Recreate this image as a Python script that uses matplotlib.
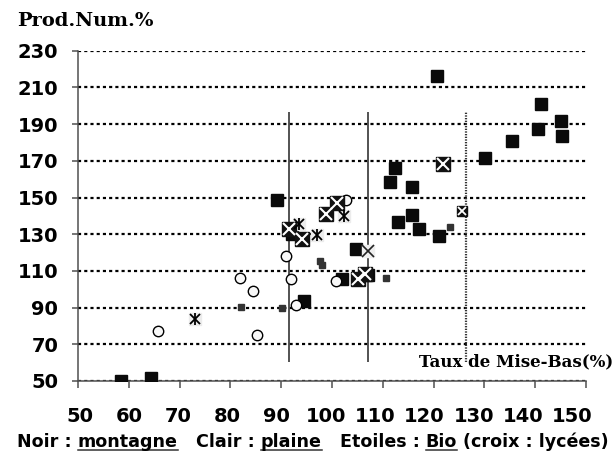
import matplotlib
matplotlib.use('Agg')
import matplotlib.pyplot as plt
from matplotlib.lines import Line2D
from matplotlib.transforms import ScaledTranslation

# Noir : montagne (gros carrés noirs)
mont_x = [58.4, 64.4, 89.1, 92.2, 94.5, 101.9, 104.7, 107.0, 111.5, 112.4, 112.9,
          115.8, 115.8, 117.1, 120.7, 121.1, 130.2, 135.4, 140.5, 141.1, 145.0, 145.2]
mont_y = [50.0, 51.8, 148.5, 130.0, 93.4, 105.4, 121.9, 107.5, 158.2, 166.2, 136.6,
          155.8, 140.3, 132.8, 216.2, 128.8, 171.3, 180.9, 187.3, 201.1, 191.6, 183.6]

# petits carrés gris foncé
petit_x = [82.1, 90.2, 97.6, 98.0, 110.6, 123.2]
petit_y = [90.2, 90.0, 115.6, 113.1, 106.0, 133.8]

# Clair : plaine (ronds blancs)
plaine_x = [65.7, 81.9, 84.4, 85.3, 90.9, 91.9, 93.0, 100.8, 102.8]
plaine_y = [77.1, 106.0, 98.9, 75.2, 118.0, 105.8, 91.5, 104.6, 148.4]

# Etoiles : Bio
bio_x = [73.0, 93.5, 97.0, 102.3]
bio_y = [83.8, 135.5, 129.4, 140.0]

# croix : lycées (carrés noirs croisés)
lycee_x = [91.5, 94.0, 98.8, 100.9, 105.1, 106.5, 121.8]
lycee_y = [132.6, 127.4, 140.8, 146.8, 105.6, 108.1, 168.0]
lycee_petit_x = [125.5]
lycee_petit_y = [142.6]

# croix claire
croix_x = [107.0]
croix_y = [120.8]

# traits verticaux
traits_x = [91.5, 107.0]
trait_pointille_x = [126.3]
trait_bas, trait_haut = 60.3, 196.5

x_ticks = list(range(50, 151, 10))
y_ticks = list(range(50, 231, 20))

W, H = 616, 466
fig = plt.figure(figsize=(W / 100, H / 100), dpi=100)
ax = fig.add_axes([78 / W, 1 - 381 / H, (586 - 78) / W, (381 - 50.7) / H])

ax.set_xlim(50, 150)
ax.set_ylim(50, 230)

for s in ['top', 'right']:
    ax.spines[s].set_visible(False)
for s in ['left', 'bottom']:
    ax.spines[s].set_color('#505050')
    ax.spines[s].set_linewidth(1.1)

ax.set_axisbelow(True)
ax.grid(True, axis='y', color='black', linewidth=1.6, linestyle=(0, (1.4, 1.4)))
ax.grid(False, axis='x')

ax.set_yticks(y_ticks)
ax.set_yticklabels([str(v) for v in y_ticks])
ax.set_xticks(x_ticks)
ax.set_xticklabels([str(v) for v in x_ticks])
ax.tick_params(axis='y', direction='out', length=4.3, width=1.1, color='#505050', pad=10,
               labelsize=14)
ax.tick_params(axis='x', direction='out', length=5, width=1.1, color='#505050', pad=13.5,
               labelsize=14)
for lab in ax.get_xticklabels() + ax.get_yticklabels():
    lab.set_fontfamily('DejaVu Sans')
    lab.set_fontweight('bold')
# les étiquettes de l'axe x ne tombent pas pile sous les graduations
for i, lab in enumerate(ax.get_xticklabels()):
    dx = (2 - 1.6 * i) / 100
    lab.set_transform(lab.get_transform() + ScaledTranslation(dx, 0, fig.dpi_scale_trans))

ax.vlines(traits_x, trait_bas, trait_haut, color='#444444', linewidth=1.3, zorder=1.5)
ax.vlines(trait_pointille_x, trait_bas, trait_haut, color='#333333', linewidth=1.6,
          linestyles=(0, (0.6, 0.6)), zorder=1.5)

ax.plot(mont_x, mont_y, ls='none', marker='s', ms=8.6, color='#0a0a0a', zorder=3)
ax.plot(petit_x, petit_y, ls='none', marker='s', ms=5, color='#333333', zorder=3)
ax.plot(plaine_x, plaine_y, ls='none', marker='o', ms=7.5, mfc='#f8f8f8', mec='black',
        mew=1.0, zorder=4)

ax.plot(bio_x, bio_y, ls='none', marker='s', ms=8.5, color='#ececec', zorder=4)
ax.plot(bio_x, bio_y, ls='none', marker='x', ms=7, mec='black', mew=1.3, zorder=5)
ax.plot(bio_x, bio_y, ls='none', marker='|', ms=8, mec='black', mew=1.3, zorder=5)

ax.plot(lycee_x, lycee_y, ls='none', marker='s', ms=9.5, color='#111111', zorder=4)
ax.plot(lycee_x, lycee_y, ls='none', marker='x', ms=8.5, mec='white', mew=1.5, zorder=5)
ax.plot(lycee_petit_x, lycee_petit_y, ls='none', marker='s', ms=6.5, color='#111111', zorder=4)
ax.plot(lycee_petit_x, lycee_petit_y, ls='none', marker='x', ms=5.5, mec='white', mew=1.3,
        zorder=5)

ax.plot(croix_x, croix_y, ls='none', marker='s', ms=9, color='#eeeeee', zorder=4)
ax.plot(croix_x, croix_y, ls='none', marker='x', ms=8, mec='#222222', mew=1.2, zorder=5)

fig.text(17 / W, 1 - 20.5 / H, 'Prod.Num.%', ha='left', va='center',
         family='DejaVu Serif', weight='bold', size=14)
fig.text(613 / W, 1 - 362 / H, 'Taux de Mise-Bas(%)', ha='right', va='center',
         family='DejaVu Serif', weight='bold', size=12)

# ligne de légende en bas, avec mots soulignés
fig.canvas.draw()
rend = fig.canvas.get_renderer()
leg_size = 12.6
espace = 0.348 * leg_size * 100 / 72
morceaux = [('Noir :', False, 1), ('montagne', True, 3), ('Clair :', False, 1),
            ('plaine', True, 3), ('Etoiles :', False, 1), ('Bio', True, 1),
            ('(croix : lycées)', False, 0)]
x = 17
for txt, souligne, nsp in morceaux:
    t = fig.text(x / W, 1 - 447 / H, txt, ha='left', va='baseline', family='DejaVu Sans',
                 weight='bold', size=leg_size)
    bb = t.get_window_extent(renderer=rend)
    if souligne:
        fig.add_artist(Line2D([bb.x0 / W, bb.x1 / W], [(H - 450) / H] * 2,
                              color='#333333', linewidth=1.1))
    x = bb.x1 + nsp * espace

fig.savefig('out.png', dpi=100)
